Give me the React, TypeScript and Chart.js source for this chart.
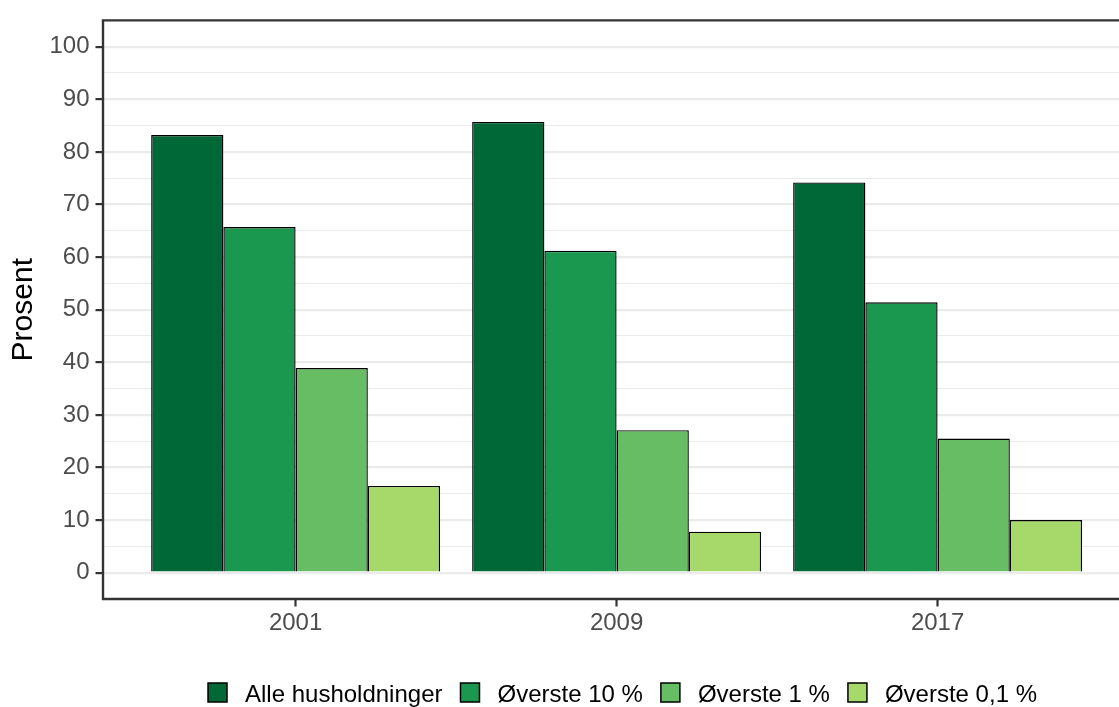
import React, { useEffect, useRef } from 'react';
import { Chart, registerables } from 'chart.js';

Chart.register(...registerables);

const years = ['2001', '2009', '2017'];
const seriesNames = ['Alle husholdninger', 'Øverste 10 %', 'Øverste 1 %', 'Øverste 0,1 %'];
const alleHusholdninger = [83.2, 85.7, 74.2];
const overste10 = [65.7, 61.2, 51.4];
const overste1 = [38.9, 27.1, 25.5];
const overste01 = [16.5, 7.8, 10.0];
const seriesColors = ['#006837', '#1A9850', '#66BD63', '#A6D96A'];
const yMajorTicks = [0, 10, 20, 30, 40, 50, 60, 70, 80, 90, 100];
const yMinorTicks = [5, 15, 25, 35, 45, 55, 65, 75, 85, 95];
const yAxisTitle = 'Prosent';

const FONT = '"Liberation Sans", Arial, Helvetica, sans-serif';

const panelBorder = {
  id: 'panelBorder',
  afterDatasetsDraw(chart: any) {
    const { ctx, chartArea } = chart;
    ctx.save();
    ctx.strokeStyle = '#333333';
    ctx.lineWidth = 2.4;
    ctx.beginPath();
    ctx.moveTo(chart.width + 5, chartArea.top);
    ctx.lineTo(chartArea.left, chartArea.top);
    ctx.lineTo(chartArea.left, chartArea.bottom);
    ctx.lineTo(chart.width + 5, chartArea.bottom);
    ctx.stroke();
    ctx.restore();
  },
};

const ggLegend = {
  id: 'ggLegend',
  afterDraw(chart: any) {
    const { ctx } = chart;
    ctx.save();
    ctx.font = `24px ${FONT}`;
    const key = 19;
    const gapKT = 18;
    const gapTK = 18;
    const items = chart.data.datasets.map((ds: any) => ({
      label: ds.label,
      color: ds.backgroundColor,
      w: ctx.measureText(ds.label).width,
    }));
    const total =
      items.reduce((s: number, it: any) => s + key + gapKT + it.w, 0) + gapTK * (items.length - 1);
    let x = 622.5 - total / 2;
    const cy = 692.5;
    items.forEach((it: any) => {
      ctx.fillStyle = it.color;
      ctx.fillRect(x, cy - key / 2, key, key);
      ctx.strokeStyle = '#000';
      ctx.lineWidth = 1.5;
      ctx.strokeRect(x, cy - key / 2, key, key);
      ctx.fillStyle = '#000';
      ctx.textBaseline = 'alphabetic';
      ctx.textAlign = 'left';
      ctx.fillText(it.label, x + key + gapKT, cy + 9.5);
      x += key + gapKT + it.w + gapTK;
    });
    ctx.restore();
  },
};

const isMajor = (v: number) => yMajorTicks.includes(v);

export default function App() {
  const ref = useRef<HTMLCanvasElement | null>(null);

  useEffect(() => {
    if (!ref.current) return;
    const seriesValues = [alleHusholdninger, overste10, overste1, overste01];
    const chart = new Chart(ref.current, {
      type: 'bar',
      data: {
        datasets: seriesValues.map((vals, i) => ({
          label: seriesNames[i],
          data: vals.map((v, j) => ({ x: j + 1, y: v })),
          backgroundColor: seriesColors[i],
          borderColor: '#000000',
          borderWidth: 1.4,
          categoryPercentage: 0.9,
          barPercentage: 1.0,
        })),
      },
      options: {
        animation: false,
        responsive: false,
        devicePixelRatio: 1,
        layout: { padding: { top: 17, left: 0, right: 0, bottom: 0 } },
        plugins: {
          legend: { display: false },
          tooltip: { enabled: false },
        },
        scales: {
          x: {
            type: 'linear',
            min: 0.4,
            max: 0.4 + 1016 / 321,
            offset: false,
            afterBuildTicks: (scale: any) => {
              scale.ticks = years.map((_, i) => ({ value: i + 1 }));
            },
            afterFit: (scale: any) => {
              scale.height = 108;
            },
            ticks: {
              autoSkip: false,
              maxRotation: 0,
              padding: 2,
              color: '#4D4D4D',
              font: { family: FONT, size: 24 },
              callback: (v: any) => years[Math.round(Number(v)) - 1] ?? '',
            },
            grid: {
              offset: false,
              drawOnChartArea: false,
              drawTicks: true,
              tickLength: 7.5,
              tickColor: '#333333',
              tickWidth: 2.2,
            },
            border: { display: false },
          },
          y: {
            type: 'linear',
            min: -5,
            max: 105,
            afterBuildTicks: (scale: any) => {
              const vals = [...yMajorTicks, ...yMinorTicks].sort((a, b) => a - b);
              scale.ticks = vals.map((v) => ({ value: v }));
            },
            afterFit: (scale: any) => {
              scale.width = 103;
            },
            ticks: {
              autoSkip: false,
              padding: 6,
              color: '#4D4D4D',
              font: { family: FONT, size: 24 },
              callback: (v: any) => (isMajor(Number(v)) ? String(v) : ''),
            },
            grid: {
              drawTicks: true,
              tickLength: 7.5,
              color: (c: any) => (c.tick ? '#EBEBEB' : 'transparent'),
              lineWidth: (c: any) => (c.tick && isMajor(c.tick.value) ? 2.2 : 1.1),
              tickColor: (c: any) => (c.tick && isMajor(c.tick.value) ? '#333333' : 'rgba(0,0,0,0)'),
              tickWidth: (c: any) => (c.tick && isMajor(c.tick.value) ? 2.2 : 0),
            },
            border: { display: false },
            title: {
              display: true,
              text: yAxisTitle,
              color: '#000000',
              font: { family: FONT, size: 30 },
              padding: { top: 6, bottom: 0 },
            },
          },
        },
      },
      plugins: [panelBorder, ggLegend],
    } as any);
    return () => chart.destroy();
  }, []);

  return (
    <div style={{ position: 'fixed', left: 0, top: 0, width: 1119, height: 707, background: '#fff', overflow: 'hidden' }}>
      <canvas ref={ref} width={1119} height={707} style={{ display: 'block' }} />
    </div>
  );
}
